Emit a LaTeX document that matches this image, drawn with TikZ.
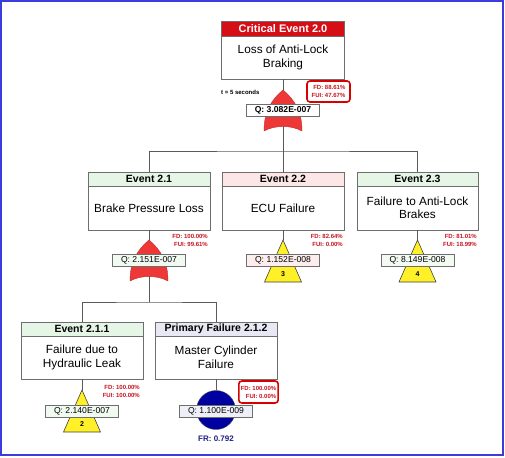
\documentclass[tikz,border=0pt]{standalone}
\usepackage{fontspec}
\setmainfont{Liberation Sans}
\usetikzlibrary{positioning}

\definecolor{hdrred}{RGB}{214,14,22}
\definecolor{gatered}{RGB}{238,56,56}
\definecolor{fdred}{RGB}{196,20,30}
\definecolor{boxgray}{RGB}{110,110,110}
\definecolor{wiregray}{RGB}{90,90,90}
\definecolor{hdrgreen}{RGB}{230,246,230}
\definecolor{hdrpink}{RGB}{252,230,230}
\definecolor{hdrlav}{RGB}{232,232,244}
\definecolor{basicyel}{RGB}{255,240,40}
\definecolor{navy}{RGB}{0,0,160}
\definecolor{frblue}{RGB}{32,32,130}
\definecolor{frameblue}{RGB}{60,60,220}

\tikzset{
  hdr/.style={draw=boxgray, minimum width=122pt, minimum height=14pt, inner sep=0pt, outer sep=0pt, font=\fontsize{10.5}{12}\selectfont\bfseries},
  body/.style={draw=boxgray, fill=white, minimum width=122pt, minimum height=44pt, inner sep=1pt, outer sep=0pt, align=center, font=\fontsize{11.8}{13.5}\selectfont},
  qbox/.style={draw=boxgray, fill=white, minimum width=73pt, minimum height=12pt, inner sep=0pt, font=\fontsize{8.6}{10}\selectfont},
  fd/.style={align=right, anchor=north east, inner sep=0pt, text=fdred, font=\fontsize{6}{8}\selectfont\bfseries},
  fdbox/.style={fd, anchor=center, draw=red!85!black, line width=1.6pt, rounded corners=3pt, inner sep=2pt},
  num/.style={inner sep=0pt, font=\fontsize{7}{8}\selectfont\bfseries},
  wire/.style={draw=wiregray, line width=0.8pt},
  orgate/.style={fill=gatered, draw=gatered!80!black, line width=0.4pt},
  basic/.style={fill=basicyel, draw=black!75, line width=0.6pt},
}

\begin{document}
\begin{tikzpicture}[x=1pt, y=-1pt]
  \useasboundingbox (0,0) rectangle (505,457);
  \draw[frameblue, line width=2pt] (1,1) rectangle (503,455);

  % top event
  \node[hdr, fill=hdrred, text=white, minimum width=123pt, minimum height=15pt, font=\fontsize{11}{12}\selectfont\bfseries] (h_0) at (283,28.5) {Critical Event 2.0};
  \node[body, minimum width=123pt, minimum height=43pt, below=0pt of h_0] (e_0) {Loss of Anti-Lock\\Braking};

  % second row
  \node[hdr, fill=hdrgreen] (h_1) at (149,179) {Event 2.1};
  \node[body, below=0pt of h_1] (e_1) {Brake Pressure Loss};
  \node[hdr, fill=hdrpink] (h_2) at (283,179) {Event 2.2};
  \node[body, below=0pt of h_2] (e_2) {ECU Failure};
  \node[hdr, fill=hdrgreen, minimum width=121pt] (h_3) at (417.5,179) {Event 2.3};
  \node[body, minimum width=121pt, below=0pt of h_3] (e_3) {Failure to Anti-Lock\\Brakes};

  % third row
  \node[hdr, fill=hdrgreen] (h_11) at (82,329) {Event 2.1.1};
  \node[body, minimum height=43pt, below=0pt of h_11] (e_11) {Failure due to\\Hydraulic Leak};
  \node[hdr, fill=hdrlav] (h_12) at (216,329) {Primary Failure 2.1.2};
  \node[body, minimum height=43pt, below=0pt of h_12] (e_12) {Master Cylinder\\Failure};

  % gate tips and bus points
  \coordinate (t_0) at (283,90);
  \coordinate (t_1) at (149,240);
  \coordinate (t_2) at (283,240);
  \coordinate (t_3) at (417.5,240);
  \coordinate (t_11) at (82,390);
  \coordinate (b_0) at (283,151);
  \coordinate (b_1) at (149,302);

  \draw[wire] (e_0.south) -- (b_0);
  \draw[wire] (h_1.north) |- (b_0) -| (h_3.north);
  \draw[wire] (b_0) -- (h_2.north);
  \draw[wire] (e_1.south) -- (b_1);
  \draw[wire] (h_11.north) |- (b_1) -| (h_12.north);
  \draw[wire] (e_2.south) -- (t_2);
  \draw[wire] (e_3.south) -- (t_3);
  \draw[wire] (e_11.south) -- (t_11);
  \draw[wire] (e_12.south) -- ++(0,11);

  % gates
  \foreach \g in {t_0,t_1}
    \path[orgate, shift={(\g)}] (0,0) .. controls (-12,10) and (-19,22) .. (-19,41)
      .. controls (-8,35) and (8,35) .. (19,41)
      .. controls (19,22) and (12,10) .. (0,0) -- cycle;
  \foreach \g in {t_2,t_3,t_11}
    \path[basic, shift={(\g)}] (0,0) -- (-18.5,42) -- (18.5,42) -- cycle;
  \node[circle, fill=navy, draw=black!70, minimum size=39pt, inner sep=0pt] (c_12) at (216,410) {};

  \node[num] (n_2) at (283,274) {3};
  \node[num] (n_3) at (417.5,274) {4};
  \node[num] (n_11) at (82,424) {2};

  % probabilities
  \node[qbox, font=\fontsize{8.6}{10}\selectfont\bfseries] (q_0) at (283,110) {Q: 3.082E-007};
  \node[qbox, fill=hdrgreen!60] (q_1) at (149,260.5) {Q: 2.151E-007};
  \node[qbox, fill=hdrpink!70] (q_2) at (283,260.5) {Q: 1.152E-008};
  \node[qbox, fill=hdrgreen!50] (q_3) at (417.5,260.5) {Q: 8.149E-008};
  \node[qbox, fill=hdrgreen!60] (q_11) at (82,411) {Q: 2.140E-007};
  \node[qbox, fill=hdrlav!70] (q_12) at (216,411) {Q: 1.100E-009};

  % importance figures
  \node[fdbox, minimum width=43pt, minimum height=21pt] (f_0) at (328.5,91.5) {FD: 88.61\%\\FUI: 47.67\%};
  \node[fd, text=black, anchor=west] (tm_0) at (221,92) {t = 5 seconds};
  \node[fd] (f_1) at (208,234.5) {FD: 100.00\%\\FUI: 99.61\%};
  \node[fd] (f_2) at (343,234.5) {FD: 82.64\%\\FUI: 0.00\%};
  \node[fd] (f_3) at (477,234.5) {FD: 81.01\%\\FUI: 18.99\%};
  \node[fd] (f_11) at (140,385.5) {FD: 100.00\%\\FUI: 100.00\%};
  \node[fdbox, minimum width=39pt, minimum height=22pt] (f_12) at (258.5,392) {FD: 100.00\%\\FUI: 0.00\%};
  \node[inner sep=0pt, text=frblue, font=\fontsize{8}{9}\selectfont\bfseries] (fr_12) at (216,438.5) {FR: 0.792};
\end{tikzpicture}
\end{document}
